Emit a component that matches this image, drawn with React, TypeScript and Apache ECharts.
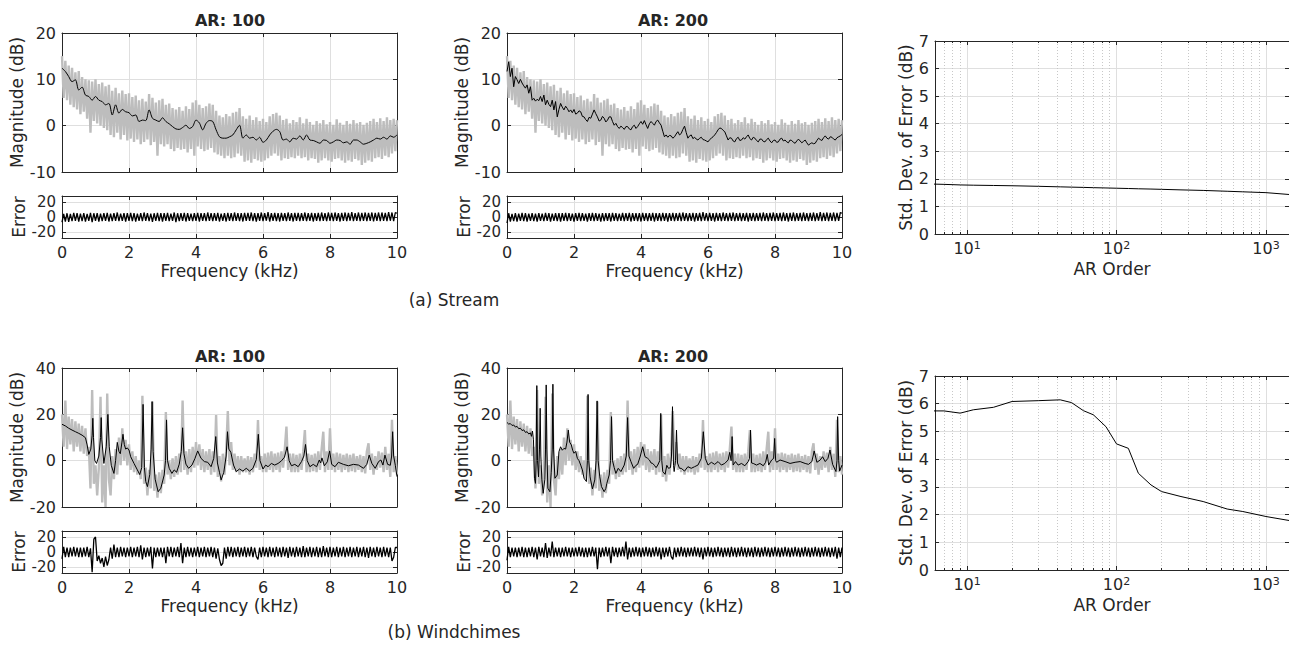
import React, { useEffect, useRef } from "react";
import * as echarts from "echarts";

const W = 1289;
const H = 649;
const FONT = "DejaVu Sans";
const INK = "#262626";
const GRID_C = "#dfdfdf";
const MINOR_C = "#c8c8c8";
const GRAY = "#bdbdbd";
const BLACK = "#000000";

// ---- sampling step of the dense spectra / error traces (kHz) ----
const DENSE_STEP = 0.05;
const AR100_STEP = 0.1;

// ---- (a) Stream: measured spectrum (gray), 0..10 kHz every 0.05 kHz ----
const streamSpectrum = [
  15, 6, 14, 5.5, 13, 4.5, 12.5, 4, 11.5, 3.5,
  11.8, 2.5, 10.5, 3, 10, 1.5, 9.8, -1.5, 9.5, 1,
  10, 0.5, 9, 0, 9.3, -0.5, 8.5, -1, 8.8, -2,
  7.5, -2.5, 8.2, -1.5, 7, -3, 7.6, -2, 6.8, -3.2,
  7, -2.8, 6.2, -3.5, 6.5, -3, 5.5, -4, 5.8, -3.5,
  5.2, -3, 6.8, -4.2, 6, -3.5, 5, -6.5, 5.5, -4,
  5.8, -4.5, 4.5, -4, 4.8, -5, 3.8, -5.5, 3.5, -4.8,
  4, -5.2, 3.2, -5, 4.2, -5.8, 3.6, -5, 5, -6.5,
  5.5, -4.5, 4.5, -5, 3.8, -5.5, 4.2, -5.2, 4.8, -4.8,
  4.5, -5.8, 3.2, -6.2, 2.2, -6.5, 1.8, -7, 2.5, -6.5,
  2, -7, 2.8, -6.8, 3, -6, 3.8, -6.5, 2, -7.8,
  1.5, -7.5, 2.2, -8, 1.2, -7.2, 1.8, -7.5, 1, -7.8,
  1.5, -7.5, 0.8, -7, 2, -6.5, 2.5, -6, 2.8, -6.5,
  2.2, -7.5, 1.2, -7, 1.5, -7.2, 0.5, -6.8, 1.2, -7,
  0.8, -6.5, 1.8, -7, 0.5, -6.8, 1.5, -7.5, 0.8, -7,
  0.2, -7.2, 1, -8, 0.5, -7.5, 1.2, -7, 0.3, -7.5,
  0.8, -7.8, 0.2, -7.2, 1.4, -7, 0.6, -7.5, 0.2, -8,
  1, -7.5, 0.4, -7.8, 1.2, -7.2, 0.5, -7.5, 0.8, -8.5,
  0.2, -8, 0.6, -7.5, 1, -7.8, 1.5, -7, 0.8, -6.8,
  1.6, -7.2, 1, -6.5, 1.8, -6.8, 1.2, -6, 1.5, -5.5,
  1.2,
];

// ---- (a) Stream: AR(100) model spectrum, every 0.1 kHz ----
const streamAR100 = [
  12.4, 11.7, 10.6, 9.5, 9.9, 7.7, 8.3, 6.6, 6.3, 5.5,
  6.3, 5.5, 5.2, 4.5, 4.8, 2.3, 4.5, 2.7, 3.5, 3,
  2.8, 2.1, 2.3, 0.9, 1.2, 1.1, 3.4, 1.6, 1.2, 0.9,
  1.7, 0.9, 0.4, -0.2, -0.7, -0.8, -0.4, 0.1, -0.6, -0.2,
  1.2, 0.6, -0.9, 0.5, 1.1, 0.9, -0.9, -2.4, -2.7, -2.7,
  -2.4, -2, -0.9, 0.1, -2.7, -2, -2.7, -2.5, -3.1, -2.5,
  -3.6, -3.1, -2, -1.2, -0.8, -1.3, -3.1, -2.9, -3.5, -2.7,
  -2.9, -2.2, -3.1, -2, -3.1, -3.2, -3.5, -3.8, -3.1, -3.2,
  -3.8, -3.5, -3.1, -3.2, -3.7, -3.5, -4, -3.1, -3.1, -3.5,
  -4, -3.8, -3.5, -3.1, -2.7, -2.9, -2.5, -2.9, -2.2, -2.5,
  -2,
];

// ---- (a) Stream: AR(200) model spectrum, every 0.05 kHz ----
const streamAR200 = [
  11.7, 13.8, 10.6, 12.4, 8.4, 10.6, 9.9, 9.1, 10, 9.2,
  8.6, 8.1, 8.8, 7, 8.4, 5.5, 5.9, 5.3, 5.7, 5.4,
  6.3, 5.2, 6.6, 4.5, 5.5, 4.6, 4.1, 5.5, 3.4, 5.2,
  1.9, 3.5, 4.8, 4, 3.4, 4.2, 3.7, 3, 3.4, 2.8,
  3.5, 2.5, 2.7, 3.2, 3, 2, 1.9, 1.3, 0.9, 1.8,
  1.6, 2.5, 3.4, 2.6, 1.9, 1, 1.2, 2, 1.6, 0.8,
  1.2, 1.9, 1.9, 0.9, 0.1, 0.5, -0.2, -0.6, -0.1, -0.4,
  -0.8, -0.2, -0.2, -0.7, -0.9, -0.2, 0.1, -0.6, -0.2, 0.4,
  0.9, 0.3, 1.1, 0.2, -0.6, 0.4, 0.9, 0.5, 0.1, 0.9,
  1.2, 0.6, 0.1, -1.2, -2.4, -2, -2.5, -2.1, -2.2, -2.7,
  -2.4, -1.8, -1.3, -2, -1.7, -0.8, -0.1, -1.5, -2.7, -2.2,
  -2, -2.8, -2.5, -2.9, -3.1, -2.7, -2.5, -3, -3.1, -3.3,
  -3.5, -3, -2.7, -2.4, -2, -1.5, -0.9, -0.5, -0.6, -1,
  -1.3, -2.2, -3.1, -2.6, -2.7, -3.3, -3.5, -2.8, -2.5, -3.2,
  -3.1, -2.6, -2.9, -2.4, -2, -2.8, -3.1, -2.5, -2.7, -3.2,
  -3.5, -2.9, -2.9, -3.4, -3.5, -3, -2.7, -3.3, -3.7, -3.2,
  -3.1, -3.6, -3.5, -2.9, -2.7, -3.3, -3.1, -3.5, -3.7, -3.1,
  -3.2, -3.6, -3.8, -3.3, -2.9, -3.3, -3.7, -3.4, -3.1, -3.7,
  -4.2, -3.9, -3.7, -3.9, -3.8, -3.2, -2.7, -3, -3.2, -2.6,
  -2.2, -2.7, -2.9, -2.4, -2.5, -2.9, -3.1, -2.6, -2.4, -2.2,
  -1.9,
];

// ---- (a) Stream: error traces, every 0.05 kHz ----
const streamErr100 = [
  -7, 4, -6, 5, -6.5, 4, -5.5, 5.5, -5, 5,
  -6, 4.5, -5.5, 5, -6, 4, -5, 5.5, -7, 5,
  -5, 5, -6, 4.5, -5.5, 5, -5, 5.5, -6, 4.5,
  -5.5, 5, -5, 6, -5.5, 4.5, -5, 5, -6, 5,
  -5, 5.5, -5.5, 5, -6, 4.5, -5, 5, -5.5, 6,
  -5, 5, -5.5, 4.5, -6.5, 5, -5, 5.5, -5.5, 5,
  -6, 5, -5, 5.5, -5.5, 4.5, -5, 6, -7, 5,
  -5.5, 5, -5, 5.5, -6, 5, -5, 4.5, -5.5, 5,
  -5, 5.5, -6, 5, -5, 5, -5.5, 6, -5, 5,
  -5.5, 5, -5, 5.5, -6, 4.5, -5, 5, -6, 5.5,
  -5, 5, -5.5, 6, -5, 5, -5.5, 5, -6, 5.5,
  -5, 5.5, -5, 6, -5.5, 5, -6, 5, -5, 6,
  -5.5, 5, -5, 6.5, -6, 5, -5, 5.5, -5.5, 5,
  -6, 5.5, -5, 5, -5.5, 6, -5, 5, -6, 5.5,
  -5, 5.5, -5.5, 5, -5, 6, -5.5, 5, -5, 5.5,
  -6, 5, -5, 5.5, -5.5, 6, -5, 5, -5.5, 6,
  -5, 5.5, -5.5, 6, -5, 5, -6, 5.5, -5, 6,
  -5.5, 5.5, -5, 6.5, -5.5, 5, -5, 6, -5.5, 5.5,
  -5, 6, -5.5, 5.5, -5, 6, -6, 5.5, -5, 6,
  -5.5, 6, -5, 5.5, -5.5, 6.5, -5, 6, -5.5, 6,
  5,
];
const streamErr200 = [
  -8, 5, -6, 4, -5.5, 5, -6, 4.5, -5, 5.5,
  -5.5, 5, -6, 4.5, -5, 5, -5.5, 4.5, -6, 5,
  -5, 4.5, -5.5, 5.5, -5, 5, -6, 4.5, -5, 5,
  -5.5, 5, -6, 5, -5, 5.5, -5.5, 5, -5, 4.5,
  -6, 5, -5, 5.5, -5.5, 5, -5, 4.5, -6, 5,
  -5, 5.5, -5.5, 5, -5, 4.5, -6, 5, -5.5, 5,
  -5, 5, -6, 5.5, -5, 5, -5.5, 4.5, -5, 5.5,
  -5.5, 5, -5, 5.5, -6, 5, -5, 5, -5.5, 5,
  -6, 5.5, -5, 5, -5.5, 5, -5, 5.5, -6, 5,
  -5, 5, -5.5, 5.5, -5, 5, -6, 5, -5, 5.5,
  -5.5, 5, -5, 5.5, -5.5, 6, -5, 5, -5.5, 5,
  -5, 5.5, -6, 5, -5, 5.5, -5.5, 6.5, -5, 5,
  -5.5, 5.5, -5, 5, -6, 5.5, -5, 5, -5.5, 6,
  -5, 5, -5.5, 5.5, -5, 6, -5.5, 5, -5, 5.5,
  -5.5, 5, -5, 5.5, -6, 5, -5, 5.5, -5.5, 5,
  -5, 5.5, -5.5, 6, -5, 5, -5.5, 5.5, -5, 6,
  -5.5, 5, -5, 5.5, -5.5, 6, -5, 5, -6, 5.5,
  -5, 6, -5.5, 5, -5, 5.5, -5.5, 6, -5, 5,
  -5.5, 5.5, -5, 6, -5.5, 5, -5, 6.5, -5.5, 5.5,
  -5, 6, -5.5, 5.5, -5, 6, -5.5, 5.5, -5, 6,
  5,
];

// ---- (b) Windchimes: measured spectrum (gray), every 0.05 kHz ----
const chimesSpectrum = [
  20, 6, 26, 5, 19, 7, 18, 4, 17, 6,
  16, 4, 15, 3, 14, 2, 6, -12, 30.5, -10,
  -2, -15, -3, 27.6, -18, -2, -20, 29, -8, -15,
  2, -8, 5, -6, 10, -2, 14, 0, 9, -2,
  7, -4, 4, -5, 2, -6, 0, -8, 28, -10,
  -3, -15, -4, -12, 25.5, -13, -6, -16, -5, -14,
  -4, -10, 21, -6, 0, -8, 1, -7, 2, -6,
  3, -5, 26, -4, 4, -6, 5, -5, 6, -3,
  8, -2, 7, -4, 5, -5, 4, -4, 5, -6,
  4, -5, 19.7, -7, 2, -9, 3, -6, 4, 21.4,
  -2, 8, -4, 3, -5, 2, -6, 2, -5, 1,
  -5, 2, -6, 1.5, -5, 3, -3, 17.5, -4, 2,
  -5, 3, -5, 3.5, -4, 4, -5, 3, -4, 3.5,
  -5, 4, -3, 5, 14.7, -4, 3, -5, 3, -5,
  2.5, -5, 3, -4, 4, 13.2, -5, 3, -5, 2.5,
  -4.5, 3, -5, 4, -4, 5, 12.5, -5, 4, -4,
  14, -4, 3, -5, 3.5, -4, 3, -5, 2.5, -4,
  3, -5, 2.5, -4.5, 3, -5, 2, -4, 2.5, -5,
  2, -5.5, 4, 7.5, -4, 3, -6, 2, -4, 4,
  -3, 3.5, -5, 6, -4, 3, -7, 17.6, -5, 2,
  -6,
];

// ---- (b) Windchimes: AR model spectra, [kHz, dB] ----
const chimesAR100 = [
  [0, 15.7], [0.1, 15], [0.2, 14], [0.3, 13.2], [0.4, 12.5], [0.5, 11.8], [0.6, 11], [0.7, 9.9],
  [0.75, 6.8], [0.8, 2.7], [0.86, 5], [0.9, 11], [0.92, 18.3], [0.94, 10], [0.98, 0], [1.03, -1.2],
  [1.1, 2], [1.15, 10], [1.17, 18.6], [1.19, 9], [1.25, -1.2], [1.32, 6], [1.37, 20], [1.41, 6],
  [1.47, -2], [1.55, -5.5], [1.6, 0], [1.65, 7.9], [1.7, 4], [1.74, 3], [1.79, 8], [1.82, 11.4],
  [1.86, 7], [1.9, 5], [1.95, 5.5], [2.0, 4.6], [2.05, 1.7], [2.15, -1.2], [2.25, -4], [2.32, -6],
  [2.38, -3], [2.42, 24.3], [2.46, -3], [2.5, -9], [2.55, -11.2], [2.62, -6], [2.66, 5], [2.69, 25.5],
  [2.72, 4], [2.78, -8], [2.87, -13.4], [2.95, -11.9], [3.05, -6.2], [3.09, 0], [3.12, 17.6], [3.15, 0],
  [3.2, -3.3], [3.28, -5.5], [3.35, -4], [3.42, -5], [3.5, -1.5], [3.56, 4], [3.6, 14.2], [3.64, 3],
  [3.7, -1.5], [3.78, -3.3], [3.88, -1.9], [3.97, 1], [4.05, 4.2], [4.15, 1], [4.25, -0.4], [4.35, -0.7],
  [4.45, -2.6], [4.53, 1], [4.59, 10.4], [4.64, -1], [4.7, -5], [4.75, -8.3], [4.83, -5], [4.9, 2],
  [4.94, 12.5], [4.98, 5], [5.04, 3.6], [5.12, -1.9], [5.2, -4.7], [5.3, -3.6], [5.4, -4.5], [5.5, -3.3],
  [5.6, -4.5], [5.7, -3.3], [5.8, 0.5], [5.86, 11.4], [5.91, 0], [6.0, -3.6], [6.08, -1.9], [6.15, -2.6],
  [6.25, -1.2], [6.35, -1.9], [6.45, -1.2], [6.55, -0.1], [6.64, 1.5], [6.72, 6], [6.78, 0], [6.85, -2.2],
  [6.95, -1.6], [7.05, -2.6], [7.15, -0.4], [7.22, 2], [7.27, 7], [7.32, 0], [7.4, -2.6], [7.5, -1.6],
  [7.6, -2.6], [7.68, 0.3], [7.72, -1], [7.76, 1.2], [7.83, -2.2], [7.92, -0.5], [7.99, 4.2], [8.05, -1.6],
  [8.15, -2.6], [8.25, -0.7], [8.4, -1.6], [8.55, -2.2], [8.7, -1.6], [8.85, -1.9], [9.0, -3.3], [9.1, -1.6],
  [9.17, 2.4], [9.25, -1.2], [9.35, -3.3], [9.45, -0.4], [9.52, 0.3], [9.58, -1.9], [9.64, 2.4], [9.72, -1.6],
  [9.8, -2], [9.84, 2], [9.87, 12.5], [9.9, 2], [9.95, -2], [10, -6.9],
];
const chimesAR200 = [
  [0, 16.5], [0.05, 15.8], [0.1, 16], [0.15, 15.2], [0.2, 15.4], [0.25, 14.5], [0.3, 14.8], [0.35, 13.8],
  [0.4, 14], [0.45, 13], [0.5, 13.3], [0.55, 12.2], [0.6, 12.5], [0.65, 11.5], [0.7, 12], [0.73, 10.5],
  [0.76, 12.8], [0.79, 9], [0.82, -7.6], [0.85, -9.8], [0.87, 0], [0.89, 32.4], [0.91, 0], [0.94, -7],
  [0.97, 5], [0.99, 22.6], [1.01, 2], [1.04, -8], [1.08, -14.1], [1.13, -8], [1.15, 5], [1.17, 32.7],
  [1.19, 5], [1.22, -11.9], [1.28, -13.4], [1.32, -5], [1.35, 5], [1.37, 33], [1.39, 5], [1.43, -7.6],
  [1.5, -6.2], [1.55, 3.9], [1.6, 6], [1.65, 4.5], [1.7, 5.3], [1.75, 5], [1.79, 8], [1.83, 13.2],
  [1.87, 8], [1.92, 6.8], [1.96, 4.5], [2.0, 3.2], [2.05, 4], [2.1, 1], [2.15, 0], [2.2, -1.9],
  [2.25, -4], [2.3, -7.6], [2.37, -9], [2.4, 0], [2.42, 28.6], [2.44, 0], [2.48, -7], [2.55, -12.2],
  [2.62, -8.3], [2.66, 0], [2.69, 25.8], [2.72, 0], [2.77, -7], [2.82, -11.2], [2.9, -13.4], [2.95, -12],
  [2.98, -9.8], [3.05, -6.2], [3.09, 0], [3.12, 19], [3.15, 0], [3.2, -3], [3.25, -5.5], [3.32, -3.3],
  [3.4, -4.7], [3.5, -1.9], [3.56, 2], [3.6, 18.6], [3.64, 2], [3.7, -0.4], [3.78, -3.3], [3.85, -2],
  [3.9, -1.6], [3.98, 2], [4.05, 6], [4.12, 1.7], [4.2, 1], [4.25, 0.3], [4.3, -1], [4.35, -1.2],
  [4.4, -2], [4.45, -3], [4.5, -1.9], [4.56, 0], [4.59, 20.4], [4.62, 0], [4.65, -4.7], [4.72, -5.9],
  [4.77, -2], [4.82, -3.3], [4.88, -3], [4.91, 2], [4.94, 23.3], [4.97, -2], [4.99, -4.7], [5.03, 0],
  [5.06, 13.2], [5.09, -1], [5.15, -3.3], [5.2, -3.3], [5.3, -4.5], [5.4, -2.6], [5.5, -3.3], [5.6, -2.6],
  [5.7, -1.9], [5.8, 1], [5.86, 12.5], [5.92, 1], [6.0, -1.9], [6.1, -0.7], [6.2, -1.6], [6.3, -0.4],
  [6.4, -1.9], [6.5, -1.2], [6.6, 0.3], [6.65, 3.6], [6.69, 0], [6.72, 10.4], [6.75, -1.9], [6.82, -0.4],
  [6.9, -1.9], [7.0, -1.2], [7.1, -2.2], [7.2, -0.4], [7.24, 1], [7.27, 13.2], [7.3, -1], [7.35, -1.2],
  [7.45, -1.9], [7.55, -1.2], [7.65, -2.2], [7.72, -0.7], [7.77, 2.7], [7.81, -1.9], [7.9, 0.3], [7.96, 1],
  [7.99, 9.6], [8.02, 0], [8.05, -0.7], [8.15, 0.3], [8.3, -0.4], [8.45, -1.2], [8.6, -0.7], [8.75, -0.4],
  [8.9, -1.2], [9.0, -1.6], [9.1, -0.4], [9.17, 4.2], [9.25, -0.7], [9.35, 0.3], [9.42, 1.7], [9.5, -0.4],
  [9.58, 1], [9.64, 4.6], [9.72, -1.6], [9.82, -4.7], [9.85, 0], [9.87, 19], [9.9, 0], [9.93, -4.5],
  [10, -1.9],
];

// ---- (b) Windchimes: error traces, every 0.05 kHz ----
const chimesErr100 = [
  -9, 7, -7, 6, -7, 6, -6, 7, -6, 6,
  -7, 6, -7, 6, -6, 7, -7, 5, -27, 17,
  20, -12, -5, -15, -8, -20, -6, -18, -10, 6,
  -9, 10, -7, 6, -7, 7, -6, 6, -7, 6,
  -6, 7, -7, 6, -6, 7, -7, 9, -10, 6,
  -7, 6, -6, 7, -22, 6, -7, 6, -6, 6,
  -7, 6, -15, 7, -6, 7, -7, 6, -6, 7,
  -7, 12, -15, 6, -7, 7, -6, 6, -7, 6,
  -6, 7, -7, 6, -6, 7, -7, 6, -6, 7,
  -7, 6, -9, 5, -10, -18, -15, 6, -9, 7,
  -6, 7, -7, 6, -6, 7, -7, 6, -6, 7,
  -7, 6, -6, 7, -7, 6, -6, -10, 6, -7,
  7, -6, 6, -7, 7, -6, 6, -7, 7, -6,
  6, -7, 7, -6, 6, -8, 7, -6, 6, -7,
  7, -6, 6, -7, 8, -7, 6, -6, 7, -7,
  6, -6, 7, -7, 6, -7, 8, -6, 6, -7,
  7, -7, 6, -6, 7, -7, 6, -6, 7, -7,
  6, -6, 7, -7, 6, -6, 7, -7, 6, -6,
  7, -7, 6, -8, 7, -6, 6, -7, 7, -6,
  6, -7, 7, -6, 6, -7, 6, -12, -7, 6,
  6,
];
const chimesErr200 = [
  -11, 7, -7, 6, -6, 6, -7, 6, -6, 7,
  -7, 6, -7, 6, -6, 7, -7, 6, -10, 7,
  -6, 6, -7, 12, -8, 6, -6, 14, -7, 6,
  -6, 6, -7, 6, -6, 7, -6, 6, -7, 6,
  -6, 6, -6, 7, -6, 6, -7, 6, -7, 6,
  -6, 7, -6, 6, -23, 6, -7, 6, -6, 7,
  -6, 6, -15, 7, -6, 6, -7, 6, -6, 7,
  -6, 14, -10, 6, -7, 6, -6, 7, -6, 6,
  -7, 6, -6, 7, -6, 6, -7, 6, -6, 7,
  -6, 6, -10, 6, -7, 6, -6, 7, -6, -10,
  6, -7, 6, -6, 7, -6, 6, -7, 6, -6,
  6, -6, 7, -6, 6, -7, 6, -10, 6, -6,
  7, -6, 6, -7, 6, -6, 7, -6, 6, -7,
  6, -6, 6, -7, 7, -6, 6, -7, 6, -6,
  7, -6, 6, -7, 6, -6, 6, -7, 7, -6,
  6, -7, 6, -6, 7, -6, 6, -7, 6, -6,
  7, -6, 6, -7, 6, -6, 7, -6, 6, -7,
  6, -6, 7, -6, 6, -7, 6, -6, 7, -6,
  6, -7, 6, -6, 7, -6, 6, -7, 6, -6,
  7, -6, 6, -7, 6, -6, 7, -9, 6, -7,
  6,
];

// ---- std. dev. of error vs AR order ----
const arOrders = [6, 7, 9, 11, 15, 20, 30, 42, 50, 60, 70, 85, 100, 120, 140, 170, 200, 270, 380, 550, 700, 1000, 1450];
const streamStd = [1.81, 1.8, 1.78, 1.77, 1.76, 1.75, 1.73, 1.71, 1.7, 1.69, 1.68, 1.67, 1.66, 1.65, 1.64, 1.63, 1.62, 1.6, 1.58, 1.55, 1.53, 1.5, 1.43];
const chimesStd = [5.74, 5.74, 5.66, 5.78, 5.87, 6.08, 6.11, 6.14, 6.04, 5.75, 5.6, 5.17, 4.55, 4.39, 3.49, 3.07, 2.83, 2.65, 2.47, 2.2, 2.11, 1.93, 1.78];

const errTicks = [-20, 0, 20];
const errOuterLabels = [-20, 20];
const errCenterLabel = [0];

// ---------------------------------------------------------------
const onGrid = (vals: number[], step: number) =>
  vals.map((v, i) => [Math.round(i * step * 1000) / 1000, v]);
const pairs = (xs: number[], ys: number[]) => xs.map((x, i) => [x, ys[i]]);

const boxes = [
  { left: 62, top: 33, width: 335, height: 139 }, // 0 stream AR100
  { left: 62, top: 196, width: 335, height: 42 }, // 1 stream err100
  { left: 507, top: 33, width: 335, height: 139 }, // 2 stream AR200
  { left: 507, top: 196, width: 335, height: 42 }, // 3 stream err200
  { left: 935, top: 41, width: 354, height: 193 }, // 4 stream std
  { left: 62, top: 368, width: 335, height: 139 }, // 5 chimes AR100
  { left: 62, top: 531, width: 335, height: 42 }, // 6 chimes err100
  { left: 507, top: 368, width: 335, height: 139 }, // 7 chimes AR200
  { left: 507, top: 531, width: 335, height: 42 }, // 8 chimes err200
  { left: 935, top: 376, width: 354, height: 194 }, // 9 chimes std
];

const axisLine = { show: true, onZero: false, lineStyle: { color: INK, width: 1 } };
const tickIn = { show: true, inside: true, length: 4, lineStyle: { color: INK, width: 1 } };
const labelStyle = { color: INK, fontSize: 16, fontFamily: FONT, hideOverlap: false };
const errLabelStyle = { color: INK, fontSize: 15, lineHeight: 13, fontFamily: FONT, hideOverlap: false };
const nameStyle = { color: INK, fontSize: 17, fontFamily: FONT };
const split = { show: true, lineStyle: { color: GRID_C, width: 1 } };

const xAxes: any[] = [];
const yAxes: any[] = [];
const extraY: any[] = [];

function freqX(g: number, labelled: boolean) {
  const base = { type: "value", gridIndex: g, min: 0, max: 10, interval: 2 };
  xAxes.push({
    ...base,
    position: "bottom",
    axisLine,
    axisTick: tickIn,
    axisLabel: labelled ? { show: true, margin: 6, ...labelStyle } : { show: false },
    splitLine: split,
    name: labelled ? "Frequency (kHz)" : "",
    nameLocation: "middle",
    nameGap: 24,
    nameTextStyle: nameStyle,
  });
  xAxes.push({ ...base, position: "top", axisLine, axisTick: tickIn, axisLabel: { show: false }, splitLine: { show: false } });
}

function logX(g: number) {
  const base = { type: "log", logBase: 10, gridIndex: g, min: 6.1, max: 1426 };
  xAxes.push({
    ...base,
    position: "bottom",
    axisLine,
    axisTick: tickIn,
    minorTick: { show: true, splitNumber: 9, length: 2, lineStyle: { color: INK } },
    minorSplitLine: { show: true, lineStyle: { color: MINOR_C, type: [1, 2], width: 1 } },
    axisLabel: {
      show: true,
      showMinLabel: false,
      showMaxLabel: false,
      hideOverlap: false,
      margin: 6,
      formatter: (v: number) => {
        const e = Math.log10(v);
        const r = Math.round(e);
        return Math.abs(e - r) < 1e-6 ? `{b|10}{s|${r}}` : "";
      },
      rich: {
        b: { fontSize: 16, fontFamily: FONT, color: INK },
        s: { fontSize: 11, fontFamily: FONT, color: INK, verticalAlign: "top" },
      },
    },
    splitLine: split,
    name: "AR Order",
    nameLocation: "middle",
    nameGap: 26,
    nameTextStyle: nameStyle,
  });
  xAxes.push({
    ...base,
    position: "top",
    axisLine,
    axisTick: tickIn,
    minorTick: { show: true, splitNumber: 9, length: 2, lineStyle: { color: INK } },
    axisLabel: { show: false },
    splitLine: { show: false },
  });
}

function valueY(g: number, min: number, max: number, interval: number, name: string, gap: number) {
  const base = { type: "value", gridIndex: g, min, max, interval };
  yAxes.push({
    ...base,
    position: "left",
    axisLine,
    axisTick: tickIn,
    axisLabel: { show: true, margin: 6, showMinLabel: true, showMaxLabel: true, ...labelStyle },
    splitLine: split,
    name,
    nameLocation: "middle",
    nameGap: gap,
    nameTextStyle: nameStyle,
  });
  yAxes.push({ ...base, position: "right", axisLine, axisTick: tickIn, axisLabel: { show: false }, splitLine: { show: false } });
}

function errY(g: number) {
  const base = { type: "value", gridIndex: g, min: -28, max: 28 };
  yAxes.push({
    ...base,
    position: "left",
    axisLine,
    axisTick: { ...tickIn, customValues: errTicks },
    axisLabel: {
      show: true,
      margin: 6,
      customValues: errOuterLabels,
      showMinLabel: true,
      showMaxLabel: true,
      ...errLabelStyle,
    },
    splitLine: split,
    name: "Error",
    nameLocation: "middle",
    nameGap: 34,
    nameTextStyle: nameStyle,
  });
  yAxes.push({ ...base, position: "right", axisLine, axisTick: { ...tickIn, customValues: errTicks }, axisLabel: { show: false }, splitLine: { show: false } });
  // label-only axis carrying the centre "0" label
  extraY.push({
    ...base,
    position: "left",
    offset: 0,
    axisLine: { show: false },
    axisTick: { show: false },
    splitLine: { show: false },
    axisLabel: {
      show: true,
      margin: 6,
      customValues: errCenterLabel,
      showMinLabel: true,
      showMaxLabel: true,
      ...errLabelStyle,
    },
  });
}

// grid 0..9
freqX(0, false); valueY(0, -10, 20, 10, "Magnitude (dB)", 34);
freqX(1, true); errY(1);
freqX(2, false); valueY(2, -10, 20, 10, "Magnitude (dB)", 34);
freqX(3, true); errY(3);
logX(4); valueY(4, 0, 7, 1, "Std. Dev. of Error (dB)", 16);
freqX(5, false); valueY(5, -20, 40, 20, "Magnitude (dB)", 34);
freqX(6, true); errY(6);
freqX(7, false); valueY(7, -20, 40, 20, "Magnitude (dB)", 34);
freqX(8, true); errY(8);
logX(9); valueY(9, 0, 7, 1, "Std. Dev. of Error (dB)", 16);

const line = (data: any[], g: number, color: string, width: number, extra: any = {}) => ({
  type: "line",
  data,
  xAxisIndex: 2 * g,
  yAxisIndex: 2 * g,
  symbol: "none",
  showSymbol: false,
  silent: true,
  lineStyle: { color, width },
  itemStyle: { color },
  ...extra,
});

const GRAY_W = 2.4;
const ERR_W = 1.3;

const series = [
  line(onGrid(streamSpectrum, DENSE_STEP), 0, GRAY, GRAY_W),
  line(onGrid(streamAR100, AR100_STEP), 0, BLACK, 1, { smooth: 0.3 }),
  line(onGrid(streamErr100, DENSE_STEP), 1, BLACK, ERR_W),
  line(onGrid(streamSpectrum, DENSE_STEP), 2, GRAY, GRAY_W),
  line(onGrid(streamAR200, DENSE_STEP), 2, BLACK, 1),
  line(onGrid(streamErr200, DENSE_STEP), 3, BLACK, ERR_W),
  line(pairs(arOrders, streamStd), 4, BLACK, 1),
  line(onGrid(chimesSpectrum, DENSE_STEP), 5, GRAY, GRAY_W),
  line(chimesAR100, 5, BLACK, 1),
  line(onGrid(chimesErr100, DENSE_STEP), 6, BLACK, ERR_W),
  line(onGrid(chimesSpectrum, DENSE_STEP), 7, GRAY, GRAY_W),
  line(chimesAR200, 7, BLACK, 1),
  line(onGrid(chimesErr200, DENSE_STEP), 8, BLACK, ERR_W),
  line(pairs(arOrders, chimesStd), 9, BLACK, 1),
];

const txt = (text: string, x: number, y: number, size: number, bold = false) => ({
  type: "text",
  x,
  y,
  silent: true,
  style: {
    text,
    fill: INK,
    fontSize: size,
    fontFamily: FONT,
    fontWeight: bold ? "bold" : "normal",
    align: "center",
    verticalAlign: "middle",
  },
});

const option: any = {
  animation: false,
  backgroundColor: "#ffffff",
  textStyle: { fontFamily: FONT },
  grid: boxes.map((b) => ({ ...b, containLabel: false })),
  xAxis: xAxes,
  yAxis: [...yAxes, ...extraY],
  series,
  graphic: [
    txt("AR: 100", 230, 20, 16, true),
    txt("AR: 200", 673, 20, 16, true),
    txt("(a) Stream", 454, 300, 17),
    txt("AR: 100", 230, 356, 16, true),
    txt("AR: 200", 673, 356, 16, true),
    txt("(b) Windchimes", 454, 632, 17),
  ],
};

export default function App() {
  const ref = useRef<HTMLDivElement>(null);
  useEffect(() => {
    document.body.style.margin = "0";
    const chart = echarts.init(ref.current as HTMLDivElement, null, { renderer: "svg" });
    chart.setOption(option);
    return () => chart.dispose();
  }, []);
  return <div ref={ref} style={{ width: W, height: H, background: "#fff" }} />;
}
